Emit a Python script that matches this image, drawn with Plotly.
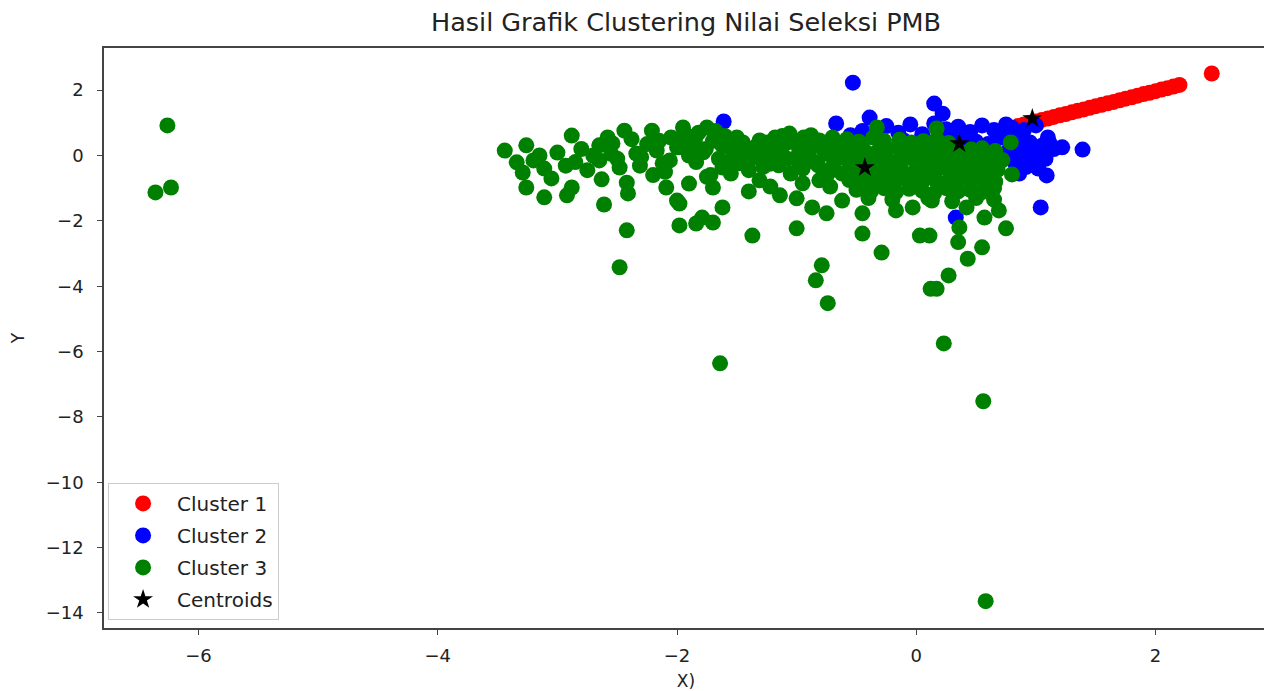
import plotly.graph_objects as go

title_text = "Hasil Grafik Clustering Nilai Seleksi PMB"
x_label = "X)"
y_label = "Y"
series_names = ["Cluster 1", "Cluster 2", "Cluster 3", "Centroids"]
x_ticks = [-6, -4, -2, 0, 2]
y_ticks = [2, 0, -2, -4, -6, -8, -10, -12, -14]

# Cluster 1 (red)
c1_x = [0.85, 0.90, 0.95, 1.00, 1.05, 1.10, 1.15, 1.20, 1.25, 1.30, 1.35, 1.40, 1.45, 1.50,
        1.55, 1.60, 1.65, 1.70, 1.75, 1.80, 1.85, 1.90, 1.95, 2.00, 2.05, 2.10, 2.15, 2.20, 2.47]
c1_y = [0.90, 0.95, 1.00, 1.04, 1.09, 1.13, 1.18, 1.23, 1.27, 1.32, 1.37, 1.41, 1.46, 1.51,
        1.55, 1.60, 1.64, 1.69, 1.74, 1.78, 1.83, 1.88, 1.92, 1.97, 2.02, 2.06, 2.11, 2.16, 2.51]

# Cluster 2 (blue)
c2_x = [-1.61, -0.53, -0.67, -0.39, 0.15, 0.22, 1.39, 1.22, 1.09, 1.04, 0.33, -0.52, -0.64,
        -0.55, -0.45, -0.35, -0.25, -0.15, -0.05, 0.05, 0.15, 0.25, 0.35, 0.45, 0.55, 0.65, 0.75,
        -0.50, -0.30, -0.10, 0.10, 0.30, 0.50, 0.70,
        0.80, 0.90, 1.00, 1.10, 0.85, 0.95, 1.05, 1.15, 0.78, 0.88, 0.98, 1.08, 0.82, 0.92, 1.02,
        0.86, 0.96, 1.12, 0.75, 0.84, 0.60, 0.40, 0.92]
c2_y = [1.04, 2.23, 0.98, 1.16, 1.59, 1.28, 0.18, 0.25, -0.61, -1.59, -1.90, -0.45, 0.37,
        0.62, 0.75, 0.58, 0.90, 0.70, 0.95, 0.65, 0.98, 0.80, 0.88, 0.72, 0.92, 0.78, 0.95,
        0.35, 0.40, 0.45, 0.38, 0.50, 0.42, 0.55,
        0.85, 0.78, 0.92, 0.55, 0.60, 0.40, 0.30, 0.20, 0.20, 0.10, 0.00, -0.10, -0.20, -0.35, -0.40,
        -0.55, -0.15, 0.35, 0.70, 0.45, 0.35, 0.45, 0.05]

# Cluster 3 (green)
c3_x = [-6.26, -6.36, -6.23,
        -3.44, -3.34, -3.26, -3.29, -3.26, -3.11, -3.11, -3.00, -2.93, -2.88, -2.88, -2.92,
        -2.65, -2.65, -2.63, -2.61, -2.54, -2.48, -2.44, -2.42, -2.41, -2.42, -2.48, -2.34,
        -2.31, -2.21, -2.17, -2.09, -2.12, -2.00, -2.00, -1.98,
        -1.95, -1.75, -1.98, -2.06, -1.84, -1.90, -1.98, -1.70, -1.62, -1.79, -1.70, -1.84,
        -1.56, -1.48, -1.62, -1.31, -1.06, -1.25, -1.31, -1.14, -1.00, -1.37, -1.00, -0.87,
        -0.75, -0.81, -0.92, -0.81, -0.64, -0.62, -0.62, -0.79, -0.84, -0.74, -1.64,
        -1.85, -1.78, -1.70, -1.65, -1.90, -1.75, -1.72, -1.55, -1.45, -1.40, -1.20, -1.15,
        -1.10, -1.05, -0.98, -0.95, -0.90, -0.85, -0.75, -0.70, -0.68, -1.35, -1.28, -1.50,
        -1.60, -1.18, -0.88, -0.72, -0.95, -1.22, -1.40, -2.20, -2.30, -2.55, -2.75, -2.80,
        -3.05, -2.15, -1.92,
        -1.95, -1.88, -1.82, -1.76, -1.68, -1.62, -1.58, -1.52, -1.45, -1.42, -1.36, -1.30,
        -1.25, -1.22, -1.16, -1.12, -1.08, -1.02, -0.98, -0.94, -0.90, -0.86, -0.82, -0.78,
        -0.74, -0.70, -0.66, -0.60, -2.05, -2.10, -2.25, -2.38, -2.50, -2.58, -2.70, -2.85,
        -3.15, -3.20,
        -0.58, -0.48, -0.36, -0.27, -0.14, -0.04, 0.06, 0.17, 0.27,
        -0.55, -0.44, -0.33, -0.24, -0.13, -0.03, 0.07, 0.16, 0.26, 0.37, 0.46, 0.55, 0.66,
        -0.57, -0.46, -0.36, -0.25, -0.16, -0.05, 0.04, 0.14, 0.24, 0.34, 0.44, 0.53, 0.63, 0.72,
        -0.53, -0.42, -0.32, -0.22, -0.12, -0.02, 0.08, 0.18, 0.28, 0.38, 0.48, 0.58, 0.68,
        -0.56, -0.45, -0.35, -0.24, -0.14, -0.04, 0.06, 0.16, 0.26, 0.36, 0.46, 0.56, 0.66,
        -0.50, -0.38, -0.27, -0.17, -0.06, 0.05, 0.15, 0.25, 0.35, 0.45, 0.55, 0.65,
        -0.40, -0.20, 0.10, 0.30, 0.50, 0.65,
        -0.33, 0.17, 0.79, 0.80,
        -0.45, -0.45, -0.29, -0.17, -0.03, 0.03, 0.11, 0.13, 0.36, 0.35, 0.43, 0.55, 0.75,
        0.27, 0.12, 0.17, 0.42, 0.57, 0.69, 0.23, 0.56, 0.58]
c3_y = [0.92, -1.13, -0.98,
        0.15, -0.21, 0.31, -0.52, -0.98, -0.40, -1.28, 0.09, -0.31, 0.61, -0.98, -1.22,
        0.31, -0.15, -0.73, -1.50, 0.37, -0.37, 0.76, -0.83, -1.16, -2.29, -3.42, 0.06,
        -0.31, 0.76, 0.15, -0.98, -0.24, 0.25, -1.38, -2.14,
        0.86, 0.86, 0.25, -0.15, -0.20, -0.86, -1.47, -0.98, -1.59, -1.90, -2.05, -2.08,
        0.25, -0.24, -0.37, 0.46, 0.67, -0.06, -0.76, -1.22, -1.31, -2.45, -2.23, -1.59,
        -1.77, 0.46, -0.15, -0.76, 0.15, -0.55, -1.38, -3.36, -3.82, -4.52, -6.36,
        0.50, 0.10, 0.45, -0.10, 0.00, -0.65, -0.60, -0.55, 0.10, -0.45, 0.20, -0.30,
        0.35, -0.55, 0.10, -0.40, 0.30, -0.20, 0.05, -0.35, 0.40, 0.25, -0.35, 0.55,
        0.60, 0.55, 0.62, -0.95, -0.85, -0.95, -1.10, -0.60, -0.05, 0.05, -0.45, 0.20,
        -0.70, 0.45, 0.62,
        0.55, 0.30, 0.70, 0.20, 0.75, 0.30, -0.20, 0.00, 0.40, -0.15, -0.05, 0.15,
        0.40, -0.25, 0.05, 0.60, -0.10, 0.40, -0.25, 0.55, 0.05, 0.35, -0.30, 0.20,
        -0.55, 0.55, -0.10, 0.30, 0.55, -0.50, 0.35, 0.50, -0.10, 0.55, 0.00, -0.20,
        0.00, -0.15,
        0.50, 0.42, 0.55, 0.45, 0.48, 0.40, 0.44, 0.50, 0.38,
        0.12, 0.18, 0.10, 0.20, 0.15, 0.08, 0.17, 0.12, 0.20, 0.10, 0.18, 0.22, 0.14,
        -0.15, -0.10, -0.20, -0.12, -0.18, -0.08, -0.14, -0.20, -0.10, -0.16, -0.12, -0.18, -0.10, -0.14,
        -0.48, -0.40, -0.50, -0.42, -0.46, -0.52, -0.44, -0.40, -0.50, -0.45, -0.42, -0.48, -0.44,
        -0.75, -0.80, -0.72, -0.78, -0.70, -0.82, -0.76, -0.74, -0.80, -0.72, -0.78, -0.74, -0.80,
        -1.05, -1.10, -1.00, -1.12, -1.02, -1.08, -1.15, -1.00, -1.10, -1.05, -1.12, -1.00,
        -1.30, -1.35, -1.30, -1.40, -1.30, -1.35,
        0.86, 0.83, 0.40, -0.58,
        -1.77, -2.39, -2.97, -1.68, -1.59, -2.45, -2.45, -1.38, -2.20, -2.65, -3.16, -2.81, -2.23,
        -3.67, -4.08, -4.08, -1.59, -1.90, -1.68, -5.75, -7.52, -13.64]

# Centroids
cen_x = [0.97, 0.36, -0.43]
cen_y = [1.13, 0.37, -0.37]

fig = go.Figure()
colors = ["#ff0000", "#0000ff", "#008000"]
for name, xs, ys, col in zip(series_names[:3], [c1_x, c2_x, c3_x], [c1_y, c2_y, c3_y], colors):
    fig.add_trace(go.Scatter(x=xs, y=ys, mode="markers", name=name, legendgroup=name,
                             marker=dict(size=16, color=col, line=dict(width=0))))
fig.add_trace(go.Scatter(x=cen_x, y=cen_y, mode="markers", name=series_names[3],
                         legendgroup=series_names[3],
                         marker=dict(size=15, color="black", symbol="star", line=dict(width=0))))

axis_common = dict(showgrid=False, zeroline=False, showline=True, linecolor="#444",
                   linewidth=1.5, mirror=True, ticks="outside", ticklen=5, tickwidth=1,
                   tickcolor="#444", tickfont=dict(size=18, color="#222"), automargin=False)

W, H = 1264, 683  # page has an 8px body margin
fig.update_layout(
    width=W, height=H,
    margin=dict(l=96, r=4, t=40, b=63),
    paper_bgcolor="white", plot_bgcolor="white",
    font=dict(family="DejaVu Sans", color="#222"),
    title=dict(text=title_text, x=0.5, xref="paper", y=1 - 14 / H, yanchor="middle",
               font=dict(size=25.5, color="#222")),
    xaxis=dict(range=[-6.79, 2.94], tickvals=x_ticks,
               title=dict(text=x_label, font=dict(size=17), standoff=10),
               ticklabelstandoff=6, **axis_common),
    yaxis=dict(range=[-14.46, 3.29], tickvals=y_ticks,
               title=dict(text=y_label, font=dict(size=17), standoff=36),
               ticklabelstandoff=10, **axis_common),
    legend=dict(x=0.0035, y=0.014, xanchor="left", yanchor="bottom",
                bgcolor="rgba(255,255,255,0.85)", bordercolor="#ccc", borderwidth=1,
                font=dict(size=20, color="#222"), traceorder="grouped",
                tracegroupgap=3, itemwidth=58),
    showlegend=True,
)

fig.write_html("out.html")
